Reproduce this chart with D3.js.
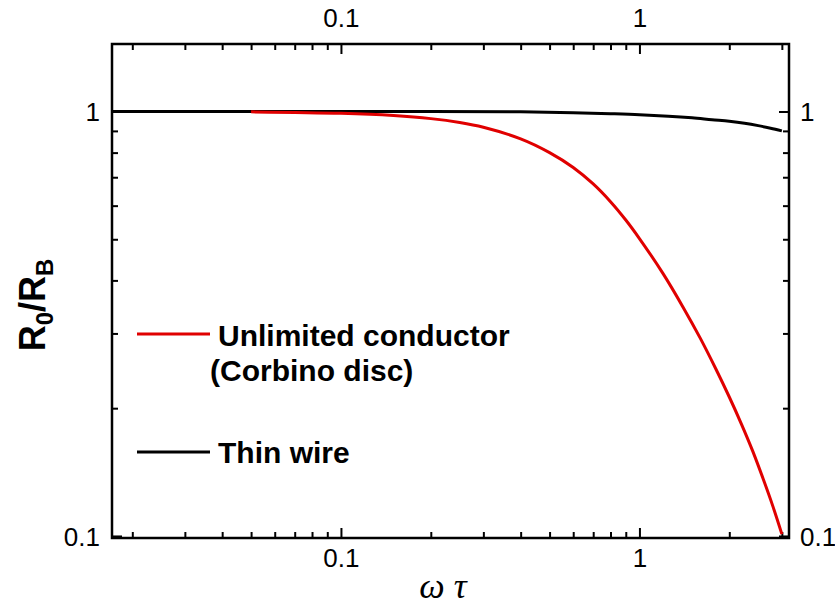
<!DOCTYPE html>
<html>
<head>
<meta charset="utf-8">
<script src="https://cdn.jsdelivr.net/npm/d3@7"></script>
<style>
  body { margin: 0; background: #fff; }
  text { font-family: "Liberation Sans", Arial, sans-serif; }
</style>
</head>
<body>
<div id="chart"></div>
<script>
// values
const wireX = [0.0171, 0.2, 0.4, 0.6, 0.8, 1.0, 1.25, 1.5, 1.75, 2.0, 2.25, 2.5, 2.75, 3.0];
const wireY = [1, 1, 0.998, 0.993, 0.988, 0.983, 0.975, 0.966, 0.956, 0.948, 0.938, 0.926, 0.913, 0.9];

const discX = [0.05, 0.1, 0.15, 0.2, 0.25, 0.3, 0.4, 0.5, 0.6, 0.7, 0.8, 0.9, 1.0, 1.2, 1.4, 1.6, 1.8, 2.0, 2.2, 2.4, 2.6, 2.8, 3.0];
const discY = [0.998, 0.99, 0.978, 0.962, 0.942, 0.918, 0.862, 0.8, 0.738, 0.675, 0.613, 0.555, 0.502, 0.415, 0.346, 0.292, 0.248, 0.2125, 0.183, 0.158, 0.136, 0.1174, 0.101];

const xTicks = [0.02, 0.03, 0.04, 0.05, 0.06, 0.07, 0.08, 0.09, 0.1, 0.2, 0.3, 0.4, 0.5, 0.6, 0.7, 0.8, 0.9, 1, 2, 3];
const yTicks = [0.1, 0.2, 0.3, 0.4, 0.5, 0.6, 0.7, 0.8, 0.9, 1];
const majorTicks = [0.1, 1];

const legendLabels = ["Unlimited conductor", "(Corbino disc)", "Thin wire"];

const margin = {top: 44, right: 46, bottom: 71, left: 112};
const width = 835 - margin.left - margin.right;
const height = 609 - margin.top - margin.bottom;

const svg = d3.select("#chart").append("svg")
    .attr("width", 835)
    .attr("height", 609);

const g = svg.append("g")
    .attr("transform", `translate(${margin.left},${margin.top})`);

const x = d3.scaleLog().domain([0.0171, 3.17]).range([0, width]);
const y = d3.scaleLog().domain([0.0989, 1.442]).range([height, 0]);

const fmt = d => majorTicks.includes(d) ? (d === 1 ? "1" : "0.1") : "";
const isMajor = d => majorTicks.includes(d);

// axes, ticks pointing inwards
function styleAxis(sel) {
    sel.select(".domain").remove();
    sel.selectAll(".tick line")
        .attr("stroke", "#000")
        .attr("stroke-width", 2);
    sel.selectAll(".tick text")
        .attr("fill", "#000")
        .style("font-size", "26px");
}

const xBottom = g.append("g")
    .attr("transform", `translate(0,${height})`)
    .call(d3.axisBottom(x).tickValues(xTicks).tickFormat(fmt).tickSizeInner(0).tickPadding(0));
xBottom.call(styleAxis);
xBottom.selectAll(".tick line").attr("y2", d => isMajor(d) ? -10 : -6);
xBottom.selectAll(".tick text").attr("dy", null).attr("y", 29);

const xTop = g.append("g")
    .call(d3.axisTop(x).tickValues(xTicks).tickFormat(fmt).tickSizeInner(0).tickPadding(0));
xTop.call(styleAxis);
xTop.selectAll(".tick line").attr("y2", d => isMajor(d) ? 10 : 6);
xTop.selectAll(".tick text").attr("dy", null).attr("y", -17);

const yLeft = g.append("g")
    .call(d3.axisLeft(y).tickValues(yTicks).tickFormat(fmt).tickSizeInner(0).tickPadding(0));
yLeft.call(styleAxis);
yLeft.selectAll(".tick line").attr("x2", d => isMajor(d) ? 10 : 6);
yLeft.selectAll(".tick text").attr("x", -12).attr("dy", "0.35em");

const yRight = g.append("g")
    .attr("transform", `translate(${width},0)`)
    .call(d3.axisRight(y).tickValues(yTicks).tickFormat(fmt).tickSizeInner(0).tickPadding(0));
yRight.call(styleAxis);
yRight.selectAll(".tick line").attr("x2", d => isMajor(d) ? -10 : -6);
yRight.selectAll(".tick text").attr("x", 11).attr("dy", "0.35em");

// frame
g.append("rect")
    .attr("width", width)
    .attr("height", height)
    .attr("fill", "none")
    .attr("stroke", "#000")
    .attr("stroke-width", 2.5);

const line = d3.line()
    .x(d => x(d[0]))
    .y(d => y(d[1]))
    .curve(d3.curveCatmullRom.alpha(0.5));

g.append("path")
    .datum(wireX.map((v, i) => [v, wireY[i]]))
    .attr("fill", "none")
    .attr("stroke", "#000")
    .attr("stroke-width", 3)
    .attr("d", line);

g.append("path")
    .datum(discX.map((v, i) => [v, discY[i]]))
    .attr("fill", "none")
    .attr("stroke", "#e00000")
    .attr("stroke-width", 3)
    .attr("d", line);

// legend
const legend = svg.append("g");
legend.append("line")
    .attr("x1", 137).attr("x2", 210).attr("y1", 334).attr("y2", 334)
    .attr("stroke", "#e00000").attr("stroke-width", 3);
legend.append("text")
    .attr("x", 218).attr("y", 346)
    .style("font-size", "30px").style("font-weight", "bold")
    .text(legendLabels[0]);
legend.append("text")
    .attr("x", 210).attr("y", 381)
    .style("font-size", "30px").style("font-weight", "bold")
    .text(legendLabels[1]);
legend.append("line")
    .attr("x1", 137).attr("x2", 210).attr("y1", 452).attr("y2", 452)
    .attr("stroke", "#000").attr("stroke-width", 3);
legend.append("text")
    .attr("x", 218).attr("y", 463)
    .style("font-size", "30px").style("font-weight", "bold")
    .text(legendLabels[2]);

// axis titles
svg.append("text")
    .attr("x", 443)
    .attr("y", 598)
    .attr("text-anchor", "middle")
    .style("font-family", "'Liberation Serif', 'Times New Roman', serif")
    .style("font-style", "italic")
    .style("font-size", "36px")
    .text("\u03C9 \u03C4");

const yt = svg.append("text")
    .attr("transform", "translate(45,305) rotate(-90)")
    .attr("text-anchor", "middle")
    .style("font-size", "36px")
    .style("font-weight", "bold");
yt.append("tspan").text("R");
yt.append("tspan").attr("dy", 8).style("font-size", "24px").text("0");
yt.append("tspan").attr("dy", -8).text("/R");
yt.append("tspan").attr("dy", 8).style("font-size", "24px").text("B");
</script>
</body>
</html>
